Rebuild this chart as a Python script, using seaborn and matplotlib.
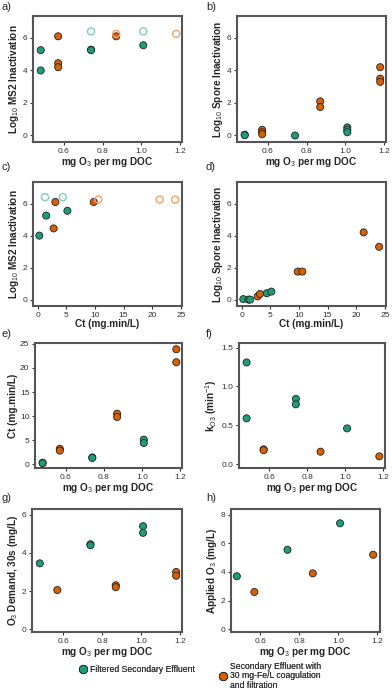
import matplotlib
matplotlib.use('Agg')
import matplotlib.pyplot as plt
import seaborn as sns
import pandas as pd
from matplotlib.lines import Line2D

# colours (Dark2)
green = '#1b9e77'
orange = '#d95f02'
green_open = '#7fd0b6'
orange_open = '#f2a36c'

lab_filt = 'Filtered Secondary Effluent'
lab_coag = 'Secondary Effluent with\n30 mg-Fe/L coagulation\nand filtration'

# a) MS2 vs dose
a_filt_x = [0.48, 0.48, 0.74, 0.74, 1.01]
a_filt_y = [5.25, 4.0, 5.28, 5.25, 5.55]
a_filt_open_x = [0.74, 1.01]
a_filt_open_y = [6.4, 6.4]
a_coag_x = [0.57, 0.57, 0.57, 0.87]
a_coag_y = [6.1, 4.45, 4.2, 6.1]
a_coag_open_x = [0.87, 1.18]
a_coag_open_y = [6.25, 6.25]

# b) spores vs dose
b_filt_x = [0.48, 0.48, 0.74, 1.01, 1.01, 1.01]
b_filt_y = [0.05, 0.02, 0.0, 0.5, 0.35, 0.2]
b_coag_x = [0.57, 0.57, 0.57, 0.87, 0.87, 1.18, 1.18, 1.18]
b_coag_y = [0.35, 0.2, 0.08, 2.1, 1.75, 4.2, 3.5, 3.3]

# c) MS2 vs Ct
c_filt_x = [0.3, 1.5, 5.2]
c_filt_y = [4.0, 5.25, 5.55]
c_filt_open_x = [1.3, 4.4]
c_filt_open_y = [6.4, 6.4]
c_coag_x = [3.1, 2.8, 9.8]
c_coag_y = [6.1, 4.45, 6.1]
c_coag_open_x = [10.6, 21.3, 24.0]
c_coag_open_y = [6.25, 6.25, 6.25]

# d) spores vs Ct
d_filt_x = [0.3, 1.2, 1.5, 4.4, 5.2]
d_filt_y = [0.03, 0.0, 0.0, 0.4, 0.5]
d_coag_x = [2.8, 3.2, 9.8, 10.6, 21.3, 24.0]
d_coag_y = [0.2, 0.35, 1.75, 1.75, 4.2, 3.3]

# e) Ct vs dose
e_filt_x = [0.48, 0.48, 0.74, 0.74, 1.01, 1.01]
e_filt_y = [0.3, 0.2, 1.4, 1.3, 5.1, 4.4]
e_coag_x = [0.57, 0.57, 0.87, 0.87, 1.18, 1.18]
e_coag_y = [3.2, 2.8, 10.5, 9.8, 23.9, 21.2]

# f) kO3 vs dose
f_filt_x = [0.48, 0.48, 0.74, 0.74, 1.01]
f_filt_y = [1.31, 0.59, 0.84, 0.77, 0.46]
f_coag_x = [0.57, 0.57, 0.87, 1.18]
f_coag_y = [0.19, 0.18, 0.16, 0.10]

# g) O3 demand vs dose
g_filt_x = [0.48, 0.74, 0.74, 1.01, 1.01]
g_filt_y = [3.45, 4.45, 4.4, 5.4, 5.05]
g_coag_x = [0.57, 0.87, 0.87, 1.18, 1.18]
g_coag_y = [2.05, 2.3, 2.2, 3.0, 2.8]

# h) applied O3 vs dose
h_filt_x = [0.48, 0.74, 1.01]
h_filt_y = [3.7, 5.55, 7.4]
h_coag_x = [0.57, 0.87, 1.18]
h_coag_y = [2.6, 3.9, 5.2]

dose_ticks = [0.6, 0.8, 1.0, 1.2]
ct_ticks = [0, 5, 10, 15, 20, 25]
log_ticks = [0, 2, 4, 6]
dose_label = 'mg O$_3$ per mg DOC'
ct_label = 'Ct (mg.min/L)'


def frame(fx, fy, ox=(), oy=()):
    parts = [
        pd.DataFrame({'x': fx[0], 'y': fy[0], 'water': 'filt', 'open': False}),
        pd.DataFrame({'x': fx[1], 'y': fy[1], 'water': 'coag', 'open': False}),
    ]
    if len(ox):
        parts.append(pd.DataFrame({'x': ox[0], 'y': oy[0], 'water': 'filt', 'open': True}))
        parts.append(pd.DataFrame({'x': ox[1], 'y': oy[1], 'water': 'coag', 'open': True}))
    return pd.concat(parts, ignore_index=True)


sns.set_style('white')
plt.rcParams['font.family'] = ['Liberation Sans', 'DejaVu Sans']
plt.rcParams['mathtext.fontset'] = 'custom'
plt.rcParams['mathtext.rm'] = 'Liberation Sans'
plt.rcParams['mathtext.bf'] = 'Liberation Sans:bold'

W, H = 392, 692
fig = plt.figure(figsize=(W / 100, H / 100), dpi=100)


def add_ax(l, t, w, h):
    return fig.add_axes([l / W, 1 - (t + h) / H, w / W, h / H])


pal = {'filt': green, 'coag': orange}
open_pal = {'filt': green_open, 'coag': orange_open}


def panel(ax, df, letter, lpos, xlabel, ylabel, xlim, ylim, xticks, yticks):
    filled = df[~df['open']]
    sns.scatterplot(data=filled, x='x', y='y', hue='water', palette=pal, s=26,
                    edgecolor='#222222', linewidth=0.6, legend=False, ax=ax, zorder=3)
    opn = df[df['open']]
    for w in ['filt', 'coag']:
        sub = opn[opn['water'] == w]
        if len(sub):
            sns.scatterplot(data=sub, x='x', y='y', color=open_pal[w], s=26,
                            edgecolor=open_pal[w], linewidth=1.0, legend=False,
                            ax=ax, zorder=3)
            ax.collections[-1].set_facecolor('none')
    ax.set_xlim(*xlim)
    ax.set_ylim(*ylim)
    ax.set_xticks(xticks)
    ax.set_yticks(yticks)
    ax.set_xlabel(xlabel, fontsize=7.2, fontweight='bold', labelpad=0.5)
    ax.set_ylabel(ylabel, fontsize=7.2, fontweight='bold', labelpad=1.5)
    ax.tick_params(axis='both', labelsize=6, colors='#333333', length=2.5,
                   width=0.8, pad=1.5, bottom=True, left=True)
    for sp in ax.spines.values():
        sp.set_visible(True)
        sp.set_color('#555555')
        sp.set_linewidth(1.5)
    fig.text(lpos[0] / W, 1 - lpos[1] / H, letter, fontsize=8, va='top', ha='left')


ax_a = add_ax(33, 16, 149, 126)
ax_b = add_ax(237, 16, 149, 126)
ax_c = add_ax(33, 182, 149, 124)
ax_d = add_ax(237, 182, 149, 124)
ax_e = add_ax(35, 343, 147, 125)
ax_f = add_ax(239, 343, 146, 125)
ax_g = add_ax(32, 509, 150, 123)
ax_h = add_ax(231, 509, 149, 123)

dose_lim = (0.44, 1.21)
ct_lim = (-0.8, 25.2)
log_lim = (-0.4, 7.35)

panel(ax_a, frame((a_filt_x, a_coag_x), (a_filt_y, a_coag_y),
                  (a_filt_open_x, a_coag_open_x), (a_filt_open_y, a_coag_open_y)),
      'a)', (1, 2), dose_label, 'Log$_{10}$ MS2 Inactivation', dose_lim, log_lim, dose_ticks, log_ticks)
panel(ax_b, frame((b_filt_x, b_coag_x), (b_filt_y, b_coag_y)),
      'b)', (206, 2), dose_label, 'Log$_{10}$ Spore Inactivation', dose_lim, log_lim, dose_ticks, log_ticks)
panel(ax_c, frame((c_filt_x, c_coag_x), (c_filt_y, c_coag_y),
                  (c_filt_open_x, c_coag_open_x), (c_filt_open_y, c_coag_open_y)),
      'c)', (1, 162), ct_label, 'Log$_{10}$ MS2 Inactivation', ct_lim, log_lim, ct_ticks, log_ticks)
panel(ax_d, frame((d_filt_x, d_coag_x), (d_filt_y, d_coag_y)),
      'd)', (206, 162), ct_label, 'Log$_{10}$ Spore Inactivation', ct_lim, log_lim, ct_ticks, log_ticks)
panel(ax_e, frame((e_filt_x, e_coag_x), (e_filt_y, e_coag_y)),
      'e)', (1, 329), dose_label, 'Ct (mg.min/L)', dose_lim, (-0.8, 25.2), dose_ticks, [0, 5, 10, 15, 20, 25])
panel(ax_f, frame((f_filt_x, f_coag_x), (f_filt_y, f_coag_y)),
      'f)', (206, 329), dose_label, 'k$_{O3}$ (min$^{-1}$)', dose_lim, (-0.05, 1.56), dose_ticks, [0.0, 0.5, 1.0, 1.5])
panel(ax_g, frame((g_filt_x, g_coag_x), (g_filt_y, g_coag_y)),
      'g)', (1, 493), dose_label, 'O$_3$ Demand, 30s (mg/L)', dose_lim, (-0.15, 6.3), dose_ticks, [0, 2, 4, 6])
panel(ax_h, frame((h_filt_x, h_coag_x), (h_filt_y, h_coag_y)),
      'h)', (206, 493), dose_label, 'Applied O$_3$ (mg/L)', (0.45, 1.215), (-0.2, 8.4), dose_ticks, [0, 2, 4, 6, 8])

# legend, two entries side by side below the panels
h_filt = Line2D([], [], marker='o', ls='', markerfacecolor=green, markeredgecolor='#222222',
                markeredgewidth=0.6, markersize=6, label=lab_filt)
h_coag = Line2D([], [], marker='o', ls='', markerfacecolor=orange, markeredgecolor='#222222',
                markeredgewidth=0.6, markersize=6, label=lab_coag)
for hd, x0, y0 in [(h_filt, 78, 670), (h_coag, 218, 676)]:
    leg = fig.legend(handles=[hd], loc='center left', bbox_to_anchor=(x0 / W, 1 - y0 / H),
                     frameon=False, fontsize=6.2, handletextpad=0.2, handlelength=1.2,
                     borderaxespad=0, borderpad=0, labelspacing=0.2)
    for t in leg.get_texts():
        t.set_color('#333333')
        t.set_linespacing(1.05)
    fig.add_artist(leg)

fig.savefig('out.png', dpi=100)
